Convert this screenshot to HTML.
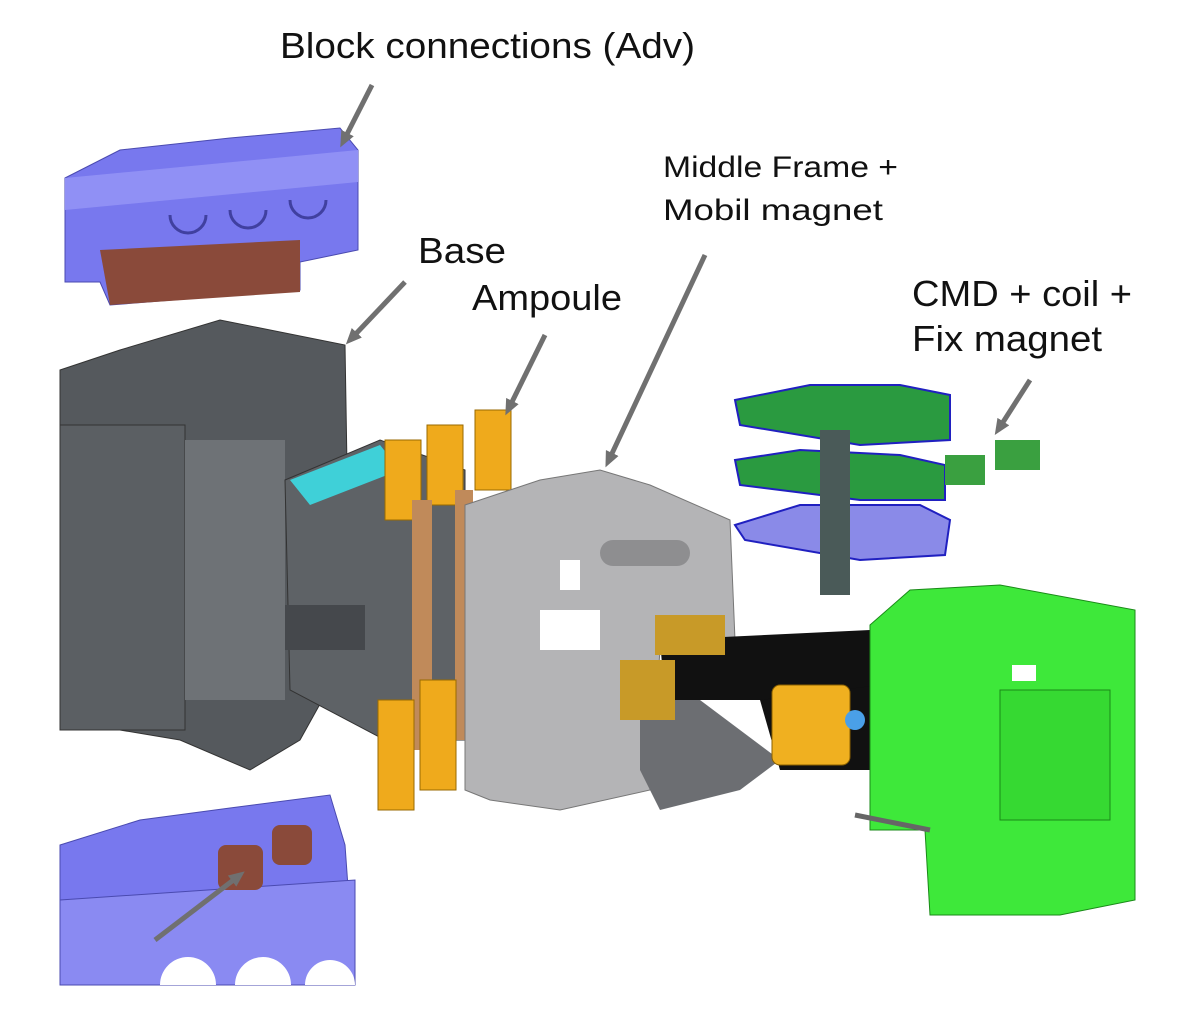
<!DOCTYPE html>
<html><head><meta charset="utf-8"><style>
html,body{margin:0;padding:0;background:#fff;}
svg{display:block}
text{font-family:"Liberation Sans",Arial,sans-serif;fill:#111}
</style></head><body>
<svg width="1200" height="1014" viewBox="0 0 1200 1014" xmlns="http://www.w3.org/2000/svg">
<defs><marker id="ah" markerWidth="16" markerHeight="14" refX="10" refY="7" orient="auto" markerUnits="userSpaceOnUse"><path d="M0,0 L16,7 L0,14 z" fill="#707070"/></marker></defs>
<rect width="1200" height="1014" fill="#fff"/>
<!-- labels -->
<text x="280" y="58" font-size="36" textLength="415" lengthAdjust="spacingAndGlyphs">Block connections (Adv)</text>
<text x="418" y="263" font-size="36" textLength="88" lengthAdjust="spacingAndGlyphs">Base</text>
<text x="472" y="310" font-size="36" textLength="150" lengthAdjust="spacingAndGlyphs">Ampoule</text>
<text x="663" y="177" font-size="30" textLength="235" lengthAdjust="spacingAndGlyphs">Middle Frame +</text>
<text x="663" y="220" font-size="30" textLength="220" lengthAdjust="spacingAndGlyphs">Mobil magnet</text>
<text x="912" y="306" font-size="36" textLength="220" lengthAdjust="spacingAndGlyphs">CMD + coil +</text>
<text x="912" y="351" font-size="36" textLength="190" lengthAdjust="spacingAndGlyphs">Fix magnet</text>
<!-- top blue block -->
<polygon points="65,178 120,150 230,138 340,128 358,150 358,250 300,262 300,290 110,305 100,282 65,282" fill="#7878ee" stroke="#4a4ab0"/>
<polygon points="100,250 300,240 300,292 110,305" fill="#8a4a3a"/>
<polygon points="65,178 358,150 358,182 65,210" fill="#9090f5"/>
<path d="M170,215 a18,18 0 0 0 36,0 M230,210 a18,18 0 0 0 36,0 M290,200 a18,18 0 0 0 36,0" stroke="#4040a0" stroke-width="3" fill="none"/>
<!-- dark base -->
<polygon points="60,370 120,350 220,320 345,345 350,650 300,740 250,770 180,740 60,720" fill="#55595d" stroke="#333"/>
<rect x="60" y="425" width="125" height="305" fill="#5b5f63" stroke="#333"/>
<rect x="185" y="440" width="100" height="260" fill="#6e7276"/>
<!-- ampoule body -->
<polygon points="285,480 380,440 465,470 465,740 385,740 290,690" fill="#5e6266" stroke="#333"/>
<polygon points="290,480 380,445 400,470 310,505" fill="#3fd0d8"/>
<rect x="285" y="605" width="80" height="45" fill="#45484c"/>
<!-- orange plates -->
<rect x="385" y="440" width="36" height="80" fill="#efaa1c" stroke="#9a6a00"/>
<rect x="427" y="425" width="36" height="80" fill="#efaa1c" stroke="#9a6a00"/>
<rect x="475" y="410" width="36" height="80" fill="#efaa1c" stroke="#9a6a00"/>
<rect x="412" y="500" width="20" height="250" fill="#c08a5a"/>
<rect x="455" y="490" width="18" height="250" fill="#c08a5a"/>
<rect x="378" y="700" width="36" height="110" fill="#efaa1c" stroke="#9a6a00"/>
<rect x="420" y="680" width="36" height="110" fill="#efaa1c" stroke="#9a6a00"/>
<!-- middle frame -->
<polygon points="465,505 540,480 600,470 650,485 730,520 735,640 660,650 650,790 560,810 490,800 465,790" fill="#b4b4b6" stroke="#777"/>
<rect x="540" y="610" width="60" height="40" fill="#fff"/>
<rect x="560" y="560" width="20" height="30" fill="#fff"/>
<rect x="600" y="540" width="90" height="26" rx="13" fill="#8e8e90"/>
<polygon points="640,700 700,700 780,760 740,790 660,810 640,770" fill="#6c6e72"/>
<!-- black bars -->
<polygon points="660,640 870,630 875,690 780,700 700,700 665,700" fill="#111"/>
<polygon points="760,700 920,680 920,770 780,770" fill="#111"/>
<rect x="655" y="615" width="70" height="40" fill="#c89a28"/>
<rect x="620" y="660" width="55" height="60" fill="#c89a28"/>
<rect x="772" y="685" width="78" height="80" rx="8" fill="#f0b020" stroke="#8a6000"/>
<circle cx="855" cy="720" r="10" fill="#4aa0e8"/>
<!-- pcb stack -->
<polygon points="735,400 810,385 900,385 950,395 950,440 860,445 740,425" fill="#2a9a40" stroke="#2020c0" stroke-width="2"/>
<polygon points="735,460 800,450 900,455 945,465 945,500 860,500 740,485" fill="#2a9a40" stroke="#2020c0" stroke-width="2"/>
<polygon points="735,525 800,505 920,505 950,520 945,555 860,560 745,540" fill="#8a8ae8" stroke="#2020c0" stroke-width="2"/>
<rect x="820" y="430" width="30" height="165" fill="#4a5a58"/>
<rect x="945" y="455" width="40" height="30" fill="#3aa040"/>
<rect x="995" y="440" width="45" height="30" fill="#3aa040"/>
<!-- green box -->
<polygon points="870,625 910,590 1000,585 1135,610 1135,900 1060,915 930,915 925,830 870,830" fill="#3ee83a" stroke="#1a8a18"/>
<rect x="1000" y="690" width="110" height="130" fill="#36d932" stroke="#1a8a18"/>
<rect x="1012" y="665" width="24" height="16" fill="#fff"/>
<line x1="855" y1="815" x2="930" y2="830" stroke="#666" stroke-width="5"/>
<!-- bottom blue block -->
<polygon points="60,845 140,820 230,808 330,795 345,845 355,985 60,985" fill="#7878ee" stroke="#4a4ab0"/>
<polygon points="60,900 355,880 355,985 60,985" fill="#8a8af2" stroke="#4a4ab0"/>
<rect x="218" y="845" width="45" height="45" rx="8" fill="#8a4a3a"/>
<rect x="272" y="825" width="40" height="40" rx="8" fill="#8a4a3a"/>
<path d="M160,985 a28,28 0 0 1 56,0 M235,985 a28,28 0 0 1 56,0 M305,985 a25,25 0 0 1 50,0" fill="#fff"/>
<!-- arrows -->
<g stroke="#707070" stroke-width="5" fill="none" marker-end="url(#ah)">
<line x1="372" y1="85" x2="343" y2="142"/>
<line x1="405" y1="282" x2="350" y2="340"/>
<line x1="545" y1="335" x2="508" y2="410"/>
<line x1="705" y1="255" x2="608" y2="462"/>
<line x1="1030" y1="380" x2="998" y2="430"/>
<line x1="155" y1="940" x2="240" y2="875"/>
</g>
</svg>
</body></html>
